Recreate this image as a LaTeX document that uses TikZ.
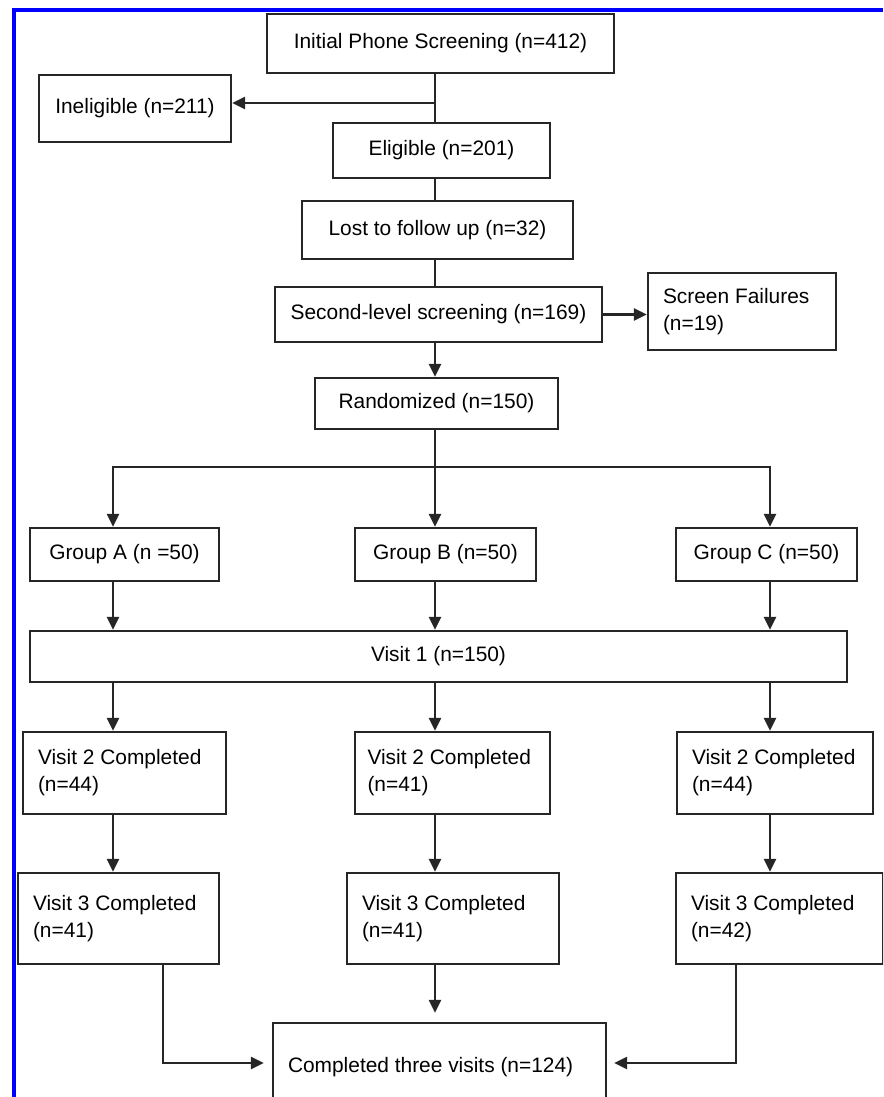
\documentclass[tikz,border=0pt]{standalone}
\usepackage{fontspec}
\setmainfont{Liberation Sans}
\usetikzlibrary{arrows.meta}
\begin{document}
\begin{tikzpicture}[x=1pt,y=-1pt,
  font=\fontsize{20.9}{27}\selectfont,
  box/.style={draw=black!85, line width=2.3pt, inner sep=0pt, align=center},
  mbox/.style={draw=black!85, line width=2.3pt, align=flush left, inner xsep=15pt, inner ysep=0pt},
  ln/.style={draw=black!85, line width=2.3pt},
  arr/.style={ln, -{Triangle[length=13pt,width=12pt]}}
]
\useasboundingbox (0,0) rectangle (883,1097);
\clip (0,0) rectangle (883,1097);
\fill[white] (0,0) rectangle (883,1097);

% blue frame
\draw[color={rgb,255:red,0;green,0;blue,255}, line width=3.2pt] (14,1097) -- (14,10) -- (883,10);

% nodes
\node[box, minimum width=347pt, minimum height=59pt] (init) at (440.5,43.5) {Initial Phone Screening (n=412)};
\node[box, minimum width=192pt, minimum height=67pt] (inel) at (135,108.5) {Ineligible (n=211)};
\node[box, minimum width=217pt, minimum height=55pt] (elig) at (441.5,150.5) {Eligible (n=201)};
\node[box, minimum width=271pt, minimum height=58pt] (lost) at (437.5,230) {Lost to follow up (n=32)};
\node[box, minimum width=327pt, minimum height=55pt] (sl) at (438.5,314.5) {Second-level screening (n=169)};
\node[mbox, text width=158pt, minimum height=77pt] (sf) at (742,311.5) {Screen Failures\\(n=19)};
\node[box, minimum width=243pt, minimum height=51pt] (rand) at (436.5,403.5) {Randomized (n=150)};
\node[box, minimum width=189pt, minimum height=53pt] (ga) at (124.5,554.5) {Group A (n =50)};
\node[box, minimum width=181pt, minimum height=53pt] (gb) at (445.5,554.5) {Group B (n=50)};
\node[box, minimum width=181pt, minimum height=53pt] (gc) at (766.5,554.5) {Group C (n=50)};
\node[box, minimum width=817pt, minimum height=51pt] (v1) at (438.5,656.5) {Visit 1 (n=150)};
\node[mbox, text width=173pt, minimum height=82pt] (v2a) at (124.5,773) {Visit 2 Completed\\(n=44)};
\node[mbox, inner xsep=12.5pt, text width=170pt, minimum height=82pt] (v2b) at (452.5,773) {Visit 2 Completed\\(n=41)};
\node[mbox, text width=166pt, minimum height=82pt] (v2c) at (775,773) {Visit 2 Completed\\(n=44)};
\node[mbox, text width=171pt, minimum height=91pt] (v3a) at (118.5,918.5) {Visit 3 Completed\\(n=41)};
\node[mbox, text width=182pt, minimum height=91pt] (v3b) at (453,918.5) {Visit 3 Completed\\(n=41)};
\node[mbox, text width=177pt, minimum height=91pt] (v3c) at (779.5,918.5) {Visit 3 Completed\\(n=42)};
\node[mbox, text width=303pt, minimum height=88pt] (comp) at (439.5,1067) {Completed three visits (n=124)};

% helper coordinates
\coordinate (cA) at (113,0);
\coordinate (cB) at (435,0);
\coordinate (cC) at (770,0);
\coordinate (jI) at (435,103);
\coordinate (jR) at (435,467);
\coordinate (xA) at (163,0);
\coordinate (xC) at (736,0);
\coordinate (yC) at (0,1063);

% connectors
\draw[ln] (init.south -| cB) -- (elig.north -| cB);
\draw[arr] (jI) -- (jI -| inel.east);
\draw[ln] (elig.south -| cB) -- (lost.north -| cB);
\draw[ln] (lost.south -| cB) -- (sl.north -| cB);
\draw[arr] (sl.east) -- (sl.east -| sf.west);
\draw[arr] (sl.south -| cB) -- (rand.north -| cB);
\draw[arr] (rand.south -| cB) -- (gb.north -| cB);
\draw[arr] (jR) -- (jR -| cA) -- (ga.north -| cA);
\draw[arr] (jR) -- (jR -| cC) -- (gc.north -| cC);

\draw[arr] (ga.south -| cA) -- (v1.north -| cA);
\draw[arr] (gb.south -| cB) -- (v1.north -| cB);
\draw[arr] (gc.south -| cC) -- (v1.north -| cC);

\draw[arr] (v1.south -| cA) -- (v2a.north -| cA);
\draw[arr] (v1.south -| cB) -- (v2b.north -| cB);
\draw[arr] (v1.south -| cC) -- (v2c.north -| cC);

\draw[arr] (v2a.south -| cA) -- (v3a.north -| cA);
\draw[arr] (v2b.south -| cB) -- (v3b.north -| cB);
\draw[arr] (v2c.south -| cC) -- (v3c.north -| cC);

\draw[arr, shorten >=9pt] (v3b.south -| cB) -- (comp.north -| cB);
\draw[arr, shorten >=8pt] (v3a.south -| xA) -- (xA |- yC) -- (yC -| comp.west);
\draw[arr, shorten >=7pt] (v3c.south -| xC) -- (xC |- yC) -- (yC -| comp.east);
\end{tikzpicture}
\end{document}
